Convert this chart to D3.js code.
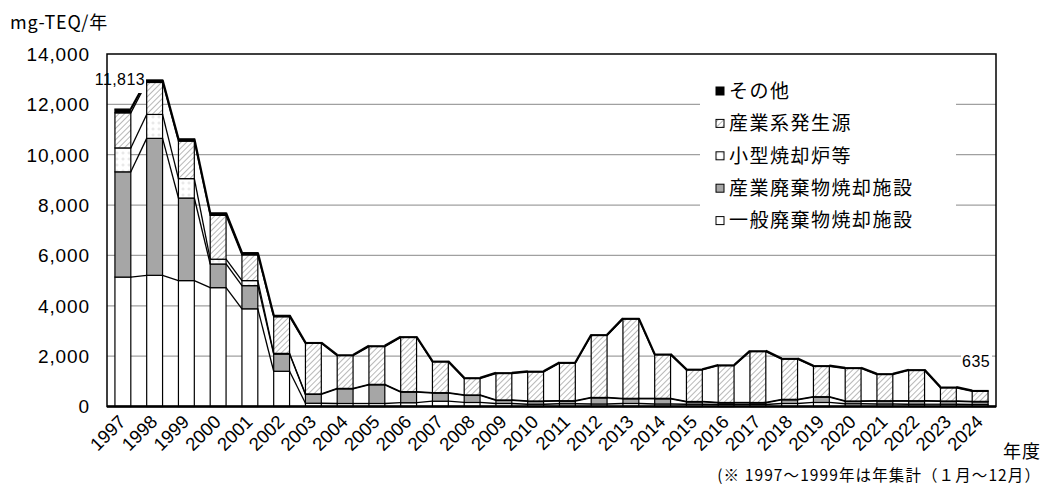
<!DOCTYPE html>
<html>
<head>
<meta charset="utf-8">
<script src="https://cdn.jsdelivr.net/npm/d3@7"></script>
<style>
  body { margin: 0; background: #fff; }
  text { font-family: "Liberation Sans", "Noto Sans CJK JP", sans-serif; fill: #000; }
  .jp { font-family: "Noto Sans CJK JP", sans-serif; }
</style>
</head>
<body>
<div id="chart"></div>
<script>
// Years (fiscal)
const years = ['1997','1998','1999','2000','2001','2002','2003','2004','2005','2006','2007','2008','2009','2010',
               '2011','2012','2013','2014','2015','2016','2017','2018','2019','2020','2021','2022','2023','2024'];

// Series values, mg-TEQ per year
const ippan   = [5140,5210,5000,4720,3880,1400,130,120,120,150,210,160,120,90,110,100,120,100,90,80,80,120,160,110,100,90,90,80];
const sangyoHaiki = [4180,5440,3280,940,920,680,350,580,740,420,320,280,120,110,100,240,185,205,90,60,60,145,210,90,110,120,110,105];
const kogata  = [950,950,770,190,200,30,20,20,20,20,20,20,20,20,20,20,20,20,20,20,20,20,20,20,20,20,20,20];
const sangyoKei = [1393,1270,1490,1740,1020,1455,2010,1300,1500,2150,1220,650,1050,1150,1490,2460,3145,1725,1250,1460,2020,1595,1200,1290,1040,1200,520,400];
const sonota  = [150,100,90,100,90,55,30,30,30,30,30,30,30,30,30,30,30,30,30,30,30,30,30,30,30,30,30,30];

const yTicks = [0,2000,4000,6000,8000,10000,12000,14000];
const seriesNames = ['一般廃棄物焼却施設','産業廃棄物焼却施設','小型焼却炉等','産業系発生源','その他'];

const W = 1047, H = 488;
const plotL = 107, plotR = 996, plotT = 54, plotB = 406.5;

const svg = d3.select('#chart').append('svg')
    .attr('width', W)
    .attr('height', H);

// patterns
const defs = svg.append('defs');
const hatch = defs.append('pattern')
    .attr('id', 'hatch')
    .attr('patternUnits', 'userSpaceOnUse')
    .attr('width', 4).attr('height', 4)
    .attr('patternTransform', 'rotate(45)');
hatch.append('rect').attr('width', 4).attr('height', 4).attr('fill', '#fff');
hatch.append('line').attr('x1', 0.5).attr('y1', 0).attr('x2', 0.5).attr('y2', 4)
    .attr('stroke', '#b8b8b8').attr('stroke-width', 1);

const dots = defs.append('pattern')
    .attr('id', 'dots')
    .attr('patternUnits', 'userSpaceOnUse')
    .attr('width', 6).attr('height', 6);
dots.append('rect').attr('width', 6).attr('height', 6).attr('fill', '#fff');
dots.append('path').attr('d', 'M3,1.5V4.5M1.5,3H4.5')
    .attr('stroke', '#e2e2e2').attr('stroke-width', 1);

const fills = ['#fff', '#a6a6a6', 'url(#dots)', 'url(#hatch)', '#000'];

// scales
const x = d3.scaleBand().domain(years).range([plotL, plotR]).paddingInner(0.5).paddingOuter(0.25);
const y = d3.scaleLinear().domain([0, 14000]).range([plotB, plotT]);

// stacked data
const table = years.map((yr, i) => ({
    year: yr, s0: ippan[i], s1: sangyoHaiki[i], s2: kogata[i], s3: sangyoKei[i], s4: sonota[i]
}));
const stack = d3.stack().keys(['s0','s1','s2','s3','s4'])(table);

// gridlines
svg.append('g')
    .selectAll('line')
    .data(yTicks.filter(d => d > 0 && d < 14000))
    .enter()
    .append('line')
    .attr('x1', plotL).attr('x2', plotR)
    .attr('y1', d => y(d)).attr('y2', d => y(d))
    .attr('stroke', '#a0a0a0')
    .attr('stroke-width', 1.3);

// bars
const layers = svg.append('g')
    .selectAll('g')
    .data(stack)
    .enter()
    .append('g')
    .attr('fill', (d, i) => fills[i]);

layers.selectAll('rect')
    .data(d => d)
    .enter()
    .append('rect')
    .attr('x', d => x(d.data.year))
    .attr('width', x.bandwidth())
    .attr('y', d => y(d[1]))
    .attr('height', d => y(d[0]) - y(d[1]))
    .attr('stroke', '#000')
    .attr('stroke-width', 1.2);

// series lines between bars
stack.forEach((layer, k) => {
    const segs = d3.range(layer.length - 1).map(i => [
        [x(years[i]) + x.bandwidth(), y(layer[i][1])],
        [x(years[i + 1]), y(layer[i + 1][1])]
    ]);
    svg.append('g')
        .selectAll('line')
        .data(segs)
        .enter()
        .append('line')
        .attr('x1', d => d[0][0]).attr('y1', d => d[0][1])
        .attr('x2', d => d[1][0]).attr('y2', d => d[1][1])
        .attr('stroke', '#000')
        .attr('stroke-width', k === 4 ? 2.2 : 1.3);
});

// value labels with white background
const totals = stack[4].map(d => d[1]);
function valueLabel(txt, xPos, yPos, anchor, box) {
    svg.append('rect')
        .attr('x', box[0]).attr('y', box[1]).attr('width', box[2]).attr('height', box[3])
        .attr('fill', '#fff');
    svg.append('text')
        .attr('x', xPos).attr('y', yPos)
        .attr('text-anchor', anchor)
        .attr('font-size', 16)
        .attr('letter-spacing', 0.4)
        .text(txt);
}
valueLabel(d3.format(',')(totals[0]), 145, 85, 'end', [88, 68, 58, 25]);
valueLabel(d3.format(',')(totals[27]), 990, 367, 'end', [961, 350, 31, 20]);

// frame and axes
svg.append('rect')
    .attr('x', plotL).attr('y', plotT)
    .attr('width', plotR - plotL).attr('height', plotB - plotT)
    .attr('fill', 'none')
    .attr('stroke', '#000')
    .attr('stroke-width', 1.5);
svg.append('line')
    .attr('x1', plotL).attr('x2', plotR)
    .attr('y1', plotB).attr('y2', plotB)
    .attr('stroke', '#000').attr('stroke-width', 2.5);

// y tick labels
svg.append('g')
    .selectAll('text')
    .data(yTicks)
    .enter()
    .append('text')
    .attr('x', 90)
    .attr('y', d => y(d))
    .attr('dy', '0.36em')
    .attr('text-anchor', 'end')
    .attr('font-size', 19)
    .attr('letter-spacing', 0.9)
    .text(d => d3.format(',')(d));

// x tick labels
svg.append('g')
    .selectAll('text')
    .data(years)
    .enter()
    .append('text')
    .attr('transform', d => `translate(${x(d) + x.bandwidth() / 2 + 4}, 423) rotate(-45)`)
    .attr('text-anchor', 'end')
    .attr('font-size', 18.5)
    .text(d => d);

// legend
const legend = svg.append('g');
legend.append('rect')
    .attr('x', 700).attr('y', 76).attr('width', 256).attr('height', 158)
    .attr('fill', '#fff');
const legendRows = [4, 3, 2, 1, 0];
legendRows.forEach((s, r) => {
    const ly = 91 + r * 32.4;
    legend.append('rect')
        .attr('x', 716).attr('y', ly - 4).attr('width', 8).attr('height', 8)
        .attr('fill', s === 3 ? 'url(#hatch)' : fills[s])
        .attr('stroke', '#000').attr('stroke-width', 1);
    legend.append('text')
        .attr('class', 'jp')
        .attr('x', 729).attr('y', ly)
        .attr('dy', '0.36em')
        .attr('font-size', 19)
        .attr('letter-spacing', 1.5)
        .text(seriesNames[s]);
});

// titles and notes
svg.append('text').attr('class', 'jp')
    .attr('x', 10).attr('y', 29).attr('font-size', 18)
    .attr('letter-spacing', 0.8)
    .text('mg-TEQ/年');
svg.append('text').attr('class', 'jp')
    .attr('x', 1003).attr('y', 458).attr('font-size', 18)
    .attr('letter-spacing', 1)
    .text('年度');
svg.append('text').attr('class', 'jp')
    .attr('x', 1041).attr('y', 481).attr('font-size', 15.5)
    .attr('letter-spacing', 1.1)
    .attr('text-anchor', 'end')
    .text('(※ 1997～1999年は年集計（１月～12月）');
</script>
</body>
</html>
